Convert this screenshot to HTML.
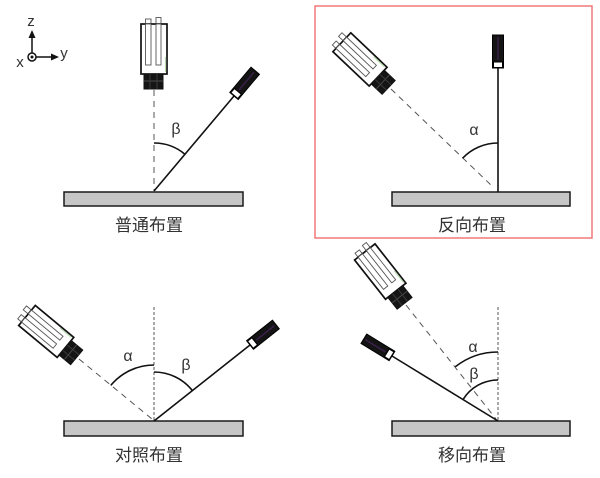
<!DOCTYPE html>
<html>
<head>
<meta charset="utf-8">
<style>
  html, body { margin: 0; padding: 0; background: #ffffff; }
  svg { display: block; }
  text { font-family: "Liberation Sans", "Noto Sans CJK SC", sans-serif; fill: #333; }
</style>
</head>
<body>
<svg width="600" height="478" viewBox="0 0 600 478" xmlns="http://www.w3.org/2000/svg">
  <defs>
    <g id="cam">
      <rect x="-8.5" y="-70" width="5.5" height="6" fill="#fff" stroke="#555" stroke-width="0.9"/>
      <rect x="2" y="-71.5" width="5" height="7" fill="#fff" stroke="#555" stroke-width="0.9"/>
      <rect x="-13" y="-65" width="26" height="50" fill="#fff" stroke="#111" stroke-width="1.7"/>
      <rect x="-8.5" y="-65" width="5.5" height="41" fill="#fff" stroke="#555" stroke-width="0.9"/>
      <rect x="2" y="-65" width="5" height="41" fill="#fff" stroke="#555" stroke-width="0.9"/>
      <line x1="11.5" y1="-32" x2="11.5" y2="-17" stroke="#b8dcb0" stroke-width="1.2"/>
      <rect x="-10" y="-15" width="19" height="15" fill="#151515" stroke="#111" stroke-width="1"/>
      <line x1="-10" y1="-8" x2="9" y2="-8" stroke="#4a4a4a" stroke-width="1"/>
      <line x1="-4" y1="-15" x2="-4" y2="0" stroke="#3a3a3a" stroke-width="1"/>
      <line x1="3" y1="-15" x2="3" y2="0" stroke="#3a3a3a" stroke-width="1"/>
    </g>
    <g id="laser">
      <rect x="-5.5" y="-33" width="11" height="33" fill="#141414" stroke="#000" stroke-width="1"/>
      <line x1="0" y1="-31" x2="0" y2="-8" stroke="#3a2048" stroke-width="1.5"/>
      <rect x="-4.5" y="-6" width="9" height="5.5" fill="#fff" stroke="#000" stroke-width="1"/>
    </g>
  </defs>

  <!-- axis -->
  <g stroke="#111" stroke-width="1.5" fill="none">
    <line x1="32" y1="53" x2="32" y2="36"/>
    <line x1="36" y1="57" x2="52" y2="57"/>
    <circle cx="32" cy="57" r="4" fill="#fff"/>
  </g>
  <circle cx="32" cy="57" r="1.5" fill="#111"/>
  <polygon points="32,30 28.5,38 35.5,38" fill="#111"/>
  <polygon points="59,57 51,53.5 51,60.5" fill="#111"/>
  <text x="31" y="26" font-size="15" text-anchor="middle">z</text>
  <text x="64" y="58" font-size="15" text-anchor="middle">y</text>
  <text x="20" y="67" font-size="15" text-anchor="middle">x</text>

  <!-- red frame -->
  <rect x="315" y="6" width="277" height="232" fill="none" stroke="#f07878" stroke-width="1.5"/>

  <!-- plates -->
  <g fill="#c6c6c6" stroke="#1a1a1a" stroke-width="1.5">
    <rect x="64" y="192" width="179" height="14"/>
    <rect x="392" y="192" width="178" height="14"/>
    <rect x="64" y="421" width="179" height="15"/>
    <rect x="392" y="421" width="178" height="15"/>
  </g>

  <!-- dashed camera lines -->
  <g stroke="#555" stroke-width="1" stroke-dasharray="6,5" fill="none">
    <line x1="154" y1="90" x2="154" y2="191"/>
    <line x1="391" y1="89" x2="492" y2="186"/>
    <line x1="79" y1="359" x2="152" y2="419"/>
    <line x1="406" y1="305" x2="496" y2="419"/>
  </g>
  <g stroke="#555" stroke-width="1" stroke-dasharray="3,2" fill="none">
    <line x1="154" y1="307" x2="154" y2="421"/>
    <line x1="498" y1="307" x2="498" y2="421"/>
  </g>

  <!-- laser lines -->
  <g stroke="#111" stroke-width="1.6" fill="none">
    <line x1="154" y1="191" x2="234" y2="96"/>
    <line x1="498" y1="68" x2="498" y2="192"/>
    <line x1="154" y1="421" x2="250" y2="345"/>
    <line x1="498" y1="421" x2="392" y2="356"/>
  </g>

  <!-- arcs -->
  <g stroke="#111" stroke-width="1.6" fill="none">
    <path d="M154,143 A48,48 0 0 1 184.9,154.2"/>
    <path d="M498,143 A49,49 0 0 0 462.5,158.3"/>
    <path d="M154,365 A56,56 0 0 0 110.8,385.4"/>
    <path d="M154,372 A49,49 0 0 1 192.4,390.6"/>
    <path d="M498,352 A69,69 0 0 0 455.3,366.8"/>
    <path d="M498,380 A41,41 0 0 0 463,399.6"/>
  </g>

  <!-- cameras -->
  <use href="#cam" transform="translate(154,89)"/>
  <use href="#cam" transform="translate(389,87) rotate(-46.5)"/>
  <use href="#cam" transform="translate(77,357) rotate(-50.3)"/>
  <use href="#cam" transform="translate(405,303) rotate(-38.2)"/>

  <!-- lasers -->
  <use href="#laser" transform="translate(234,96) rotate(40)"/>
  <use href="#laser" transform="translate(498,68)"/>
  <use href="#laser" transform="translate(250,345) rotate(51.6)"/>
  <use href="#laser" transform="translate(392,356) rotate(-58.5)"/>

  <!-- greek labels -->
  <g font-size="16" text-anchor="middle">
    <text x="176" y="134">β</text>
    <text x="474" y="135">α</text>
    <text x="128" y="361">α</text>
    <text x="186" y="370">β</text>
    <text x="473" y="352">α</text>
    <text x="474" y="379">β</text>
  </g>

  <!-- captions -->
  <g font-size="17" text-anchor="middle">
    <text x="149" y="231">普通布置</text>
    <text x="472" y="231">反向布置</text>
    <text x="149" y="461">对照布置</text>
    <text x="472" y="461">移向布置</text>
  </g>
</svg>
</body>
</html>
